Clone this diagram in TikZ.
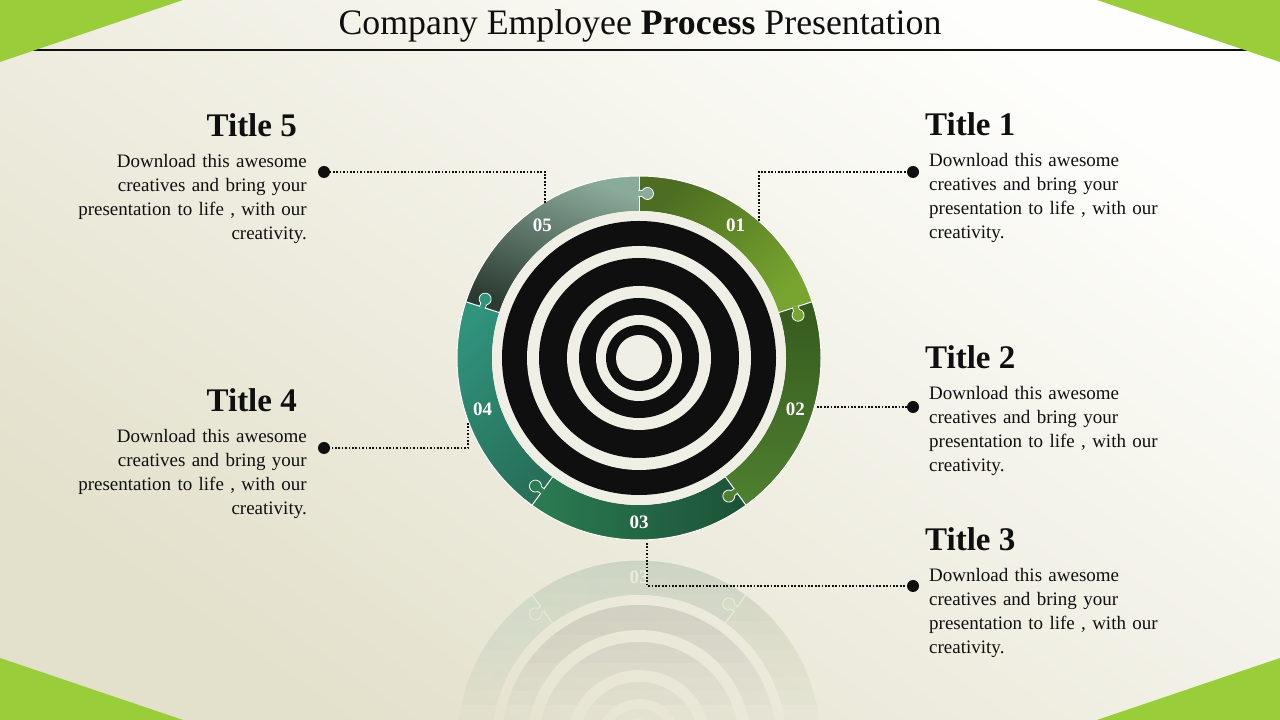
\documentclass[tikz,border=0pt]{standalone}
\usepackage{fontspec}
\setmainfont{Liberation Serif}
\usetikzlibrary{calc}
\definecolor{bgtop}{HTML}{FEFEFC}
\definecolor{bgbot}{HTML}{E3E0CB}
\definecolor{cornergreen}{HTML}{9ACD3A}
\definecolor{cream}{HTML}{F0EFE6}
\definecolor{ink}{HTML}{0F0F0F}
\definecolor{oneA}{HTML}{4C6D22}
\definecolor{oneB}{HTML}{78A52F}
\definecolor{twoA}{HTML}{355A1E}
\definecolor{twoB}{HTML}{4F8030}
\definecolor{threeA}{HTML}{2B7C53}
\definecolor{threeB}{HTML}{1C5237}
\definecolor{fourA}{HTML}{30937C}
\definecolor{fourB}{HTML}{28705A}
\definecolor{fiveA}{HTML}{8AAA9A}
\definecolor{fiveB}{HTML}{2C3B31}
\tikzstyle{backdrop}=[top color=bgtop,bottom color=bgbot,shading angle=-35]
\tikzstyle{bullet}=[circle,fill=ink,minimum size=12pt,inner sep=0pt]
\tikzstyle{leader}=[draw=ink,line width=1.7pt,dash pattern=on 1.7pt off 1.7pt]
\tikzstyle{titletext}=[font=\fontsize{33}{36}\selectfont\bfseries,text=ink,inner sep=0pt]
\tikzstyle{bodytext}=[font=\fontsize{19}{24}\selectfont,text=ink,inner sep=0pt,text width=260pt]
\tikzstyle{numtext}=[font=\fontsize{19}{20}\selectfont\bfseries,text=white,inner sep=0pt]
\tikzstyle{seam}=[draw=white!85!cream,line width=1pt]

% ring of five puzzle pieces round the target, centred at the origin
\newcommand{\drawwheel}{%
  \foreach \s/\ca/\cb/\sa in {18/oneA/oneB/45, -54/twoA/twoB/0, -126/threeA/threeB/90, 162/fourA/fourB/45, 90/fiveA/fiveB/-20}
    \shade[top color=\ca, bottom color=\cb, shading angle=\sa] (\s:182) arc[start angle=\s, end angle=\s+72, radius=182] -- (\s+72:147) arc[start angle=\s+72, end angle=\s, radius=147] -- cycle;
  \foreach \b in {18,-54,-126,162,90}
    \draw[seam] (\b:147) -- (\b:182);
  \draw[seam] (0,0) circle[radius=182];
  % tabs, each one reaching clockwise into the next piece
  \foreach \b/\kc in {90/fiveA, 18/oneB, -54/twoB, -126/threeA, 162/fourA}
    \filldraw[fill=\kc, seam, line width=0.8pt, shift={(\b:164.5)}, rotate=\b]
      (-3,0.6) -- (-3,-3.3) arc[start angle=120, end angle=420, radius=6] -- (3,0.6);
  \foreach \r/\col in {147/cream,137/ink,112/cream,100/ink,72/cream,60/ink,43/cream,33/ink,23/cream}
    \fill[fill=\col] (0,0) circle[radius=\r];
}

\begin{document}
\begin{tikzpicture}[x=1pt,y=1pt]
  \useasboundingbox (0,0) rectangle (1280,720);
  \clip (0,0) rectangle (1280,720);
  \shade[backdrop] (0,0) rectangle (1280,720);

  % reflection under the wheel, washed out towards the bottom
  \begin{scope}
    \clip (0,0) rectangle (1280,175);
    \begin{scope}[shift={(639,-22)},yscale=-1,transparency group,opacity=0.17]
      \drawwheel
      \node[numtext] (nr) at (-90:164.5) {03};
    \end{scope}
  \end{scope}
  \foreach \i in {0,...,11} {
    \pgfmathsetmacro\op{2/(2*\i+3)}
    \begin{scope}
      \clip (0,0) rectangle (1280,{14*(\i+1)});
      \shade[backdrop,opacity=\op] (0,0) rectangle (1280,720);
    \end{scope}
  }

  \coordinate (c) at (639,362);
  \begin{scope}[shift={(639,362)}]
    \drawwheel
  \end{scope}
  \foreach \ang/\txt in {54/01,-18/02,-90/03,198/04,126/05}
    \node[numtext] (n\txt) at ($(c)+(\ang:164.5)$) {\txt};

  % header
  \coordinate (hl) at (0,670);
  \coordinate (hr) at (1280,670);
  \draw[ink,line width=2.8pt] (hl) -- (hr);
  \node[font=\fontsize{35.8}{38}\selectfont,text=ink,anchor=base,inner sep=0pt] (head) at (640,685) {Company Employee \textbf{Process} Presentation};

  \fill[cornergreen] (0,720) -- (183,720) -- (0,658) -- cycle;
  \fill[cornergreen] (1097,720) -- (1280,720) -- (1280,658) -- cycle;
  \fill[cornergreen] (0,0) -- (183,0) -- (0,62) -- cycle;
  \fill[cornergreen] (1097,0) -- (1280,0) -- (1280,62) -- cycle;

  \foreach \i/\y in {1/584, 2/351, 3/169} {
    \node[titletext,anchor=base west] (t\i) at (925,\y) {Title \i};
    \node[bodytext,anchor=base west,align=left] (b\i) at (929,{\y-31}) {Download this awesome\\creatives and bring your\\presentation to life , with our\\creativity.};
  }
  \foreach \i/\y in {5/583, 4/308} {
    \node[titletext,anchor=base east] (t\i) at (297,\y) {Title \i};
    \node[bodytext,anchor=base east,align=right] (b\i) at (307,{\y-31}) {Download this awesome\\creatives and bring your\\presentation to life , with our\\creativity.};
  }

  % points where the leaders leave the ring
  \coordinate (r1) at (759,499);
  \coordinate (r2) at (817,313);
  \coordinate (r3) at (647,177);
  \coordinate (r4) at (468,297);
  \coordinate (r5) at (545,517);
  \foreach \px/\py/\nm in {913/548/d1, 913/313/d2, 913/134/d3, 324/272/d4, 324/548/d5}
    \node[bullet] (\nm) at (\px,\py) {};

  \foreach \source/\dest in {r1/d1, r3/d3, r4/d4, r5/d5}
    \path[leader] (\source) |- (\dest);
  \path[leader] (r2) -- (d2);
\end{tikzpicture}
\end{document}
